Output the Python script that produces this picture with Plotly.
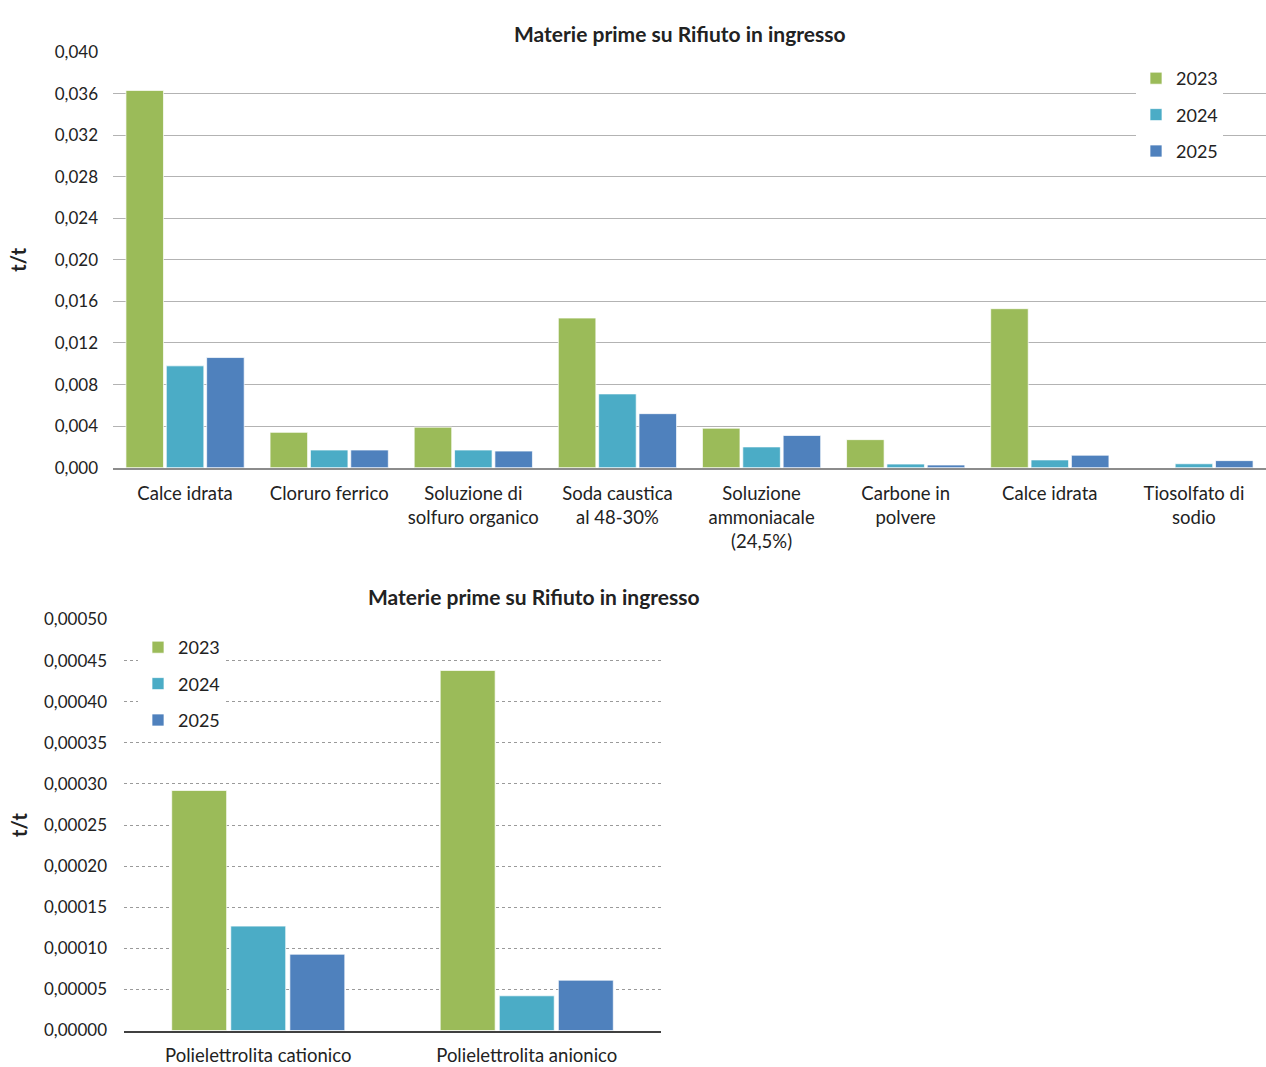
import plotly.graph_objects as go

# data
years = ["2023", "2024", "2025"]
colors = ["#9BBB59", "#4BACC6", "#4F81BD"]

top_categories = ["Calce idrata", "Cloruro ferrico", "Soluzione di<br>solfuro organico",
                  "Soda caustica<br>al 48-30%", "Soluzione<br>ammoniacale<br>(24,5%)",
                  "Carbone in<br>polvere", "Calce idrata", "Tiosolfato di<br>sodio"]
top_2023 = [0.0363, 0.0034, 0.0039, 0.0144, 0.0038, 0.0027, 0.0153, 0.0]
top_2024 = [0.0098, 0.0017, 0.0017, 0.0071, 0.0020, 0.00035, 0.00075, 0.00038]
top_2025 = [0.0106, 0.0017, 0.0016, 0.0052, 0.0031, 0.00026, 0.0012, 0.00068]
top_ticks = [0.000, 0.004, 0.008, 0.012, 0.016, 0.020, 0.024, 0.028, 0.032, 0.036, 0.040]

bottom_categories = ["Polielettrolita cationico", "Polielettrolita anionico"]
bottom_2023 = [0.000292, 0.000438]
bottom_2024 = [0.000127, 0.0000422]
bottom_2025 = [0.0000928, 0.0000612]
bottom_ticks = [0.0, 0.00005, 0.0001, 0.00015, 0.0002, 0.00025, 0.0003,
                0.00035, 0.0004, 0.00045, 0.0005]

FONT = "Lato, 'Noto Sans', sans-serif"
W, H = 1266, 1067

fig = go.Figure()

def add_group(series, n, xaxis, yaxis, legend, group_w):
    slot = group_w / 3
    bar_w = slot * 0.93
    for i, (vals, yr, col) in enumerate(zip(series, years, colors)):
        fig.add_trace(go.Bar(
            x=list(range(n)), y=vals, name=yr,
            width=bar_w, offset=-group_w / 2 + i * slot + (slot - bar_w) / 2,
            marker=dict(color=col, line=dict(color="rgba(255,255,255,0.7)", width=1)),
            xaxis=xaxis, yaxis=yaxis, legend=legend, legendgroup=legend + yr,
        ))

add_group([top_2023, top_2024, top_2025], len(top_categories), "x", "y", "legend", 0.84)
add_group([bottom_2023, bottom_2024, bottom_2025], len(bottom_categories), "x2", "y2", "legend2", 0.66)

# convert window pixel positions to paper fractions
def px_x(p):
    return min(1.0, p / W)

def px_y(p):
    return 1 - p / H

fig.update_layout(
    width=W, height=H,
    margin=dict(l=0, r=0, t=0, b=0, autoexpand=False),
    paper_bgcolor="white", plot_bgcolor="white",
    barmode="overlay",
    separators=",.",
    font=dict(family=FONT, size=17, color="#222222"),
    showlegend=True,
    xaxis=dict(domain=[px_x(113), 1.0], anchor="y", automargin=False,
               range=[-0.5, len(top_categories) - 0.5],
               tickvals=list(range(len(top_categories))), ticktext=top_categories,
               showgrid=False, showline=True, linecolor="#8c8c8c", linewidth=2,
               ticks="", tickfont=dict(size=18.5), ticklabelstandoff=8),
    yaxis=dict(domain=[px_y(467.7), px_y(52)], anchor="x", automargin=False,
               range=[0, 0.040], tickvals=top_ticks, tickformat=".3f",
               showgrid=True, gridcolor="#b3b3b3", gridwidth=1,
               zeroline=False, showline=False, ticks="",
               ticklabelstandoff=14, tickfont=dict(size=17),
               title=dict(text="<b>t/t</b>", font=dict(size=20), standoff=22)),
    xaxis2=dict(domain=[px_x(124), px_x(661)], anchor="y2", automargin=False,
                range=[-0.5, len(bottom_categories) - 0.5],
                tickvals=list(range(len(bottom_categories))), ticktext=bottom_categories,
                showgrid=False, showline=True, linecolor="#404040", linewidth=1.5,
                ticks="", tickfont=dict(size=18.5), ticklabelstandoff=8),
    yaxis2=dict(domain=[px_y(1030.5), px_y(619.5)], anchor="x2", automargin=False,
                range=[0, 0.0005], tickvals=bottom_ticks, tickformat=".5f",
                showgrid=True, gridcolor="#9a9a9a", gridwidth=1, griddash="dot",
                zeroline=False, showline=False, ticks="",
                ticklabelstandoff=16, tickfont=dict(size=17),
                title=dict(text="<b>t/t</b>", font=dict(size=20), standoff=10)),
    legend=dict(x=px_x(1136), y=px_y(60), xanchor="left", yanchor="top",
                bgcolor="white", font=dict(size=18), tracegroupgap=10,
                itemwidth=30),
    legend2=dict(x=px_x(138), y=px_y(629), xanchor="left", yanchor="top",
                 bgcolor="white", font=dict(size=18), tracegroupgap=10,
                 itemwidth=30),
    annotations=[
        dict(text="<b>Materie prime su Rifiuto in ingresso</b>", x=px_x(680), y=px_y(19),
             xref="paper", yref="paper", showarrow=False, font=dict(size=21)),
        dict(text="<b>Materie prime su Rifiuto in ingresso</b>", x=px_x(366), y=px_y(596),
             xref="paper", yref="paper", showarrow=False, font=dict(size=21)),
    ],
)

# drop the default body margin so the figure fills the window exactly
fig.write_html("out.html", config={"displayModeBar": False},
               post_script="document.body.style.margin='0';")
